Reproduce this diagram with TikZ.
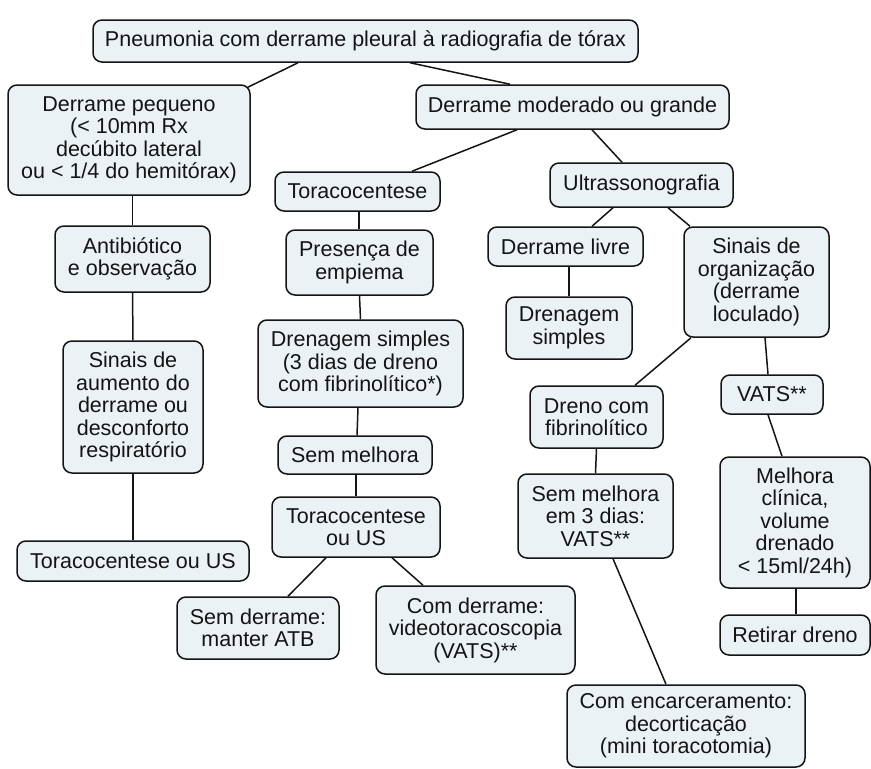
\documentclass[tikz,border=0pt]{standalone}
\usepackage{fontspec}
\setmainfont{Liberation Sans}
\usetikzlibrary{backgrounds}
\definecolor{boxfill}{HTML}{EAF2F6}
\definecolor{ink}{HTML}{141414}
\tikzset{
  box/.style={draw=ink, fill=boxfill, text=ink, rounded corners=9pt,
    line width=1.5pt, align=center, inner sep=0pt,
    font=\fontsize{21.5}{22.5}\selectfont},
  link/.style={draw=ink, line width=1.5pt}
}
\newcommand{\bx}[5]{\node[box, minimum width=#3pt, minimum height=#4pt] (#1) at (#2) {#5};}
\begin{document}
\begin{tikzpicture}[x=1pt, y=-1pt]
\useasboundingbox (0,0) rectangle (871,769);

% root
\bx{top}{365.5,41}{545}{42}{Pneumonia com derrame pleural à radiografia de tórax}

% small effusion branch
\bx{pequeno}{129,140}{242}{110}{Derrame pequeno\\(< 10mm Rx\\decúbito lateral\\ou < 1/4 do hemitórax)}
\bx{antib}{132.5,259}{155}{66}{Antibiótico\\e observação}
\bx{aumento}{133,407}{140}{132}{Sinais de\\aumento do\\derrame ou\\desconforto\\respiratório}
\bx{toracUSl}{133,561}{232}{40}{Toracocentese ou US}

% moderate / large effusion branch
\bx{moderado}{572.5,107}{313}{44}{Derrame moderado ou grande}
\bx{torac}{357.5,191.5}{165}{39}{Toracocentese}
\bx{presenca}{359.5,262.5}{147}{65}{Presença de\\empiema}
\bx{dren3}{360.5,363.5}{205}{87}{Drenagem simples\\(3 dias de dreno\\com fibrinolítico*)}
\bx{semmelhora}{355,455}{154}{38}{Sem melhora}
\bx{toracUS}{356,527}{168}{60}{Toracocentese\\ou US}
\bx{semderrame}{258,628}{162}{62}{Sem derrame:\\manter ATB}
\bx{comderrame}{475.5,630}{199}{88}{Com derrame:\\videotoracoscopia\\(VATS)**}

% ultrasound branch
\bx{ultra}{641.5,185}{183}{44}{Ultrassonografia}
\bx{livre}{565.5,246.5}{155}{39}{Derrame livre}
\bx{drensimp}{569,328}{126}{62}{Drenagem\\simples}
\bx{sinaisorg}{756.5,282}{145}{110}{Sinais de\\organização\\(derrame\\loculado)}
\bx{drenofib}{596.5,417}{133}{62}{Dreno com\\fibrinolítico}
\bx{sem3}{595.5,516}{155}{84}{Sem melhora\\em 3 dias:\\VATS**}
\bx{encarc}{686,726}{238}{82}{Com encarceramento:\\decorticação\\(mini toracotomia)}
\bx{vats}{772,394.5}{102}{39}{VATS**}
\bx{melhora}{795,522.5}{150}{131}{Melhora\\clínica,\\volume\\drenado\\< 15ml/24h)}
\bx{retirar}{795,635}{150}{40}{Retirar dreno}

% connectors, kept behind the boxes
\begin{scope}[on background layer]
\draw[link] ([xshift=-67.5pt]top.south) -- ([shift={(-3pt,-3pt)}]pequeno.north east);
\draw[link] ([xshift=44.5pt]top.south) -- ([xshift=-62.5pt]moderado.north);
\draw[link] ([xshift=3.5pt]pequeno.south) -- (antib.north);
\draw[link] (antib.south) -- (aumento.north);
\draw[link] (aumento.south) -- (toracUSl.north);
\draw[link] ([xshift=-55.5pt]moderado.south) -- ([xshift=54.5pt]torac.north);
\draw[link] ([xshift=19.5pt]moderado.south) -- ([xshift=-19.5pt]ultra.north);
\draw[link] ([xshift=1.5pt]torac.south) -- ([xshift=-0.5pt]presenca.north);
\draw[link] (presenca.south) -- (dren3.north);
\draw[link] ([xshift=-2.5pt]dren3.south) -- ([xshift=2pt]semmelhora.north);
\draw[link] ([xshift=1pt]semmelhora.south) -- (toracUS.north);
\draw[link] ([xshift=-30pt]toracUS.south) -- ([xshift=30pt]semderrame.north);
\draw[link] ([xshift=36pt]toracUS.south) -- ([xshift=-52.5pt]comderrame.north);
\draw[link] ([xshift=-28.5pt]ultra.south) -- ([xshift=26.5pt]livre.north);
\draw[link] ([xshift=26.5pt]ultra.south) -- ([xshift=-66.5pt]sinaisorg.north);
\draw[link] (livre.south -| drensimp.north) -- (drensimp.north);
\draw[link] ([xshift=-65.5pt]sinaisorg.south) -- ([xshift=38.5pt]drenofib.north);
\draw[link] ([xshift=8.5pt]sinaisorg.south) -- ([xshift=-4pt]vats.north);
\draw[link] (drenofib.south) -- (sem3.north);
\draw[link] ([xshift=17.5pt]sem3.south) -- ([xshift=-20pt]encarc.north);
\draw[link] ([xshift=-4pt]vats.south) -- ([xshift=-13pt]melhora.north);
\draw[link] ([xshift=1pt]melhora.south) -- ([xshift=1pt]retirar.north);
\end{scope}
\end{tikzpicture}
\end{document}
